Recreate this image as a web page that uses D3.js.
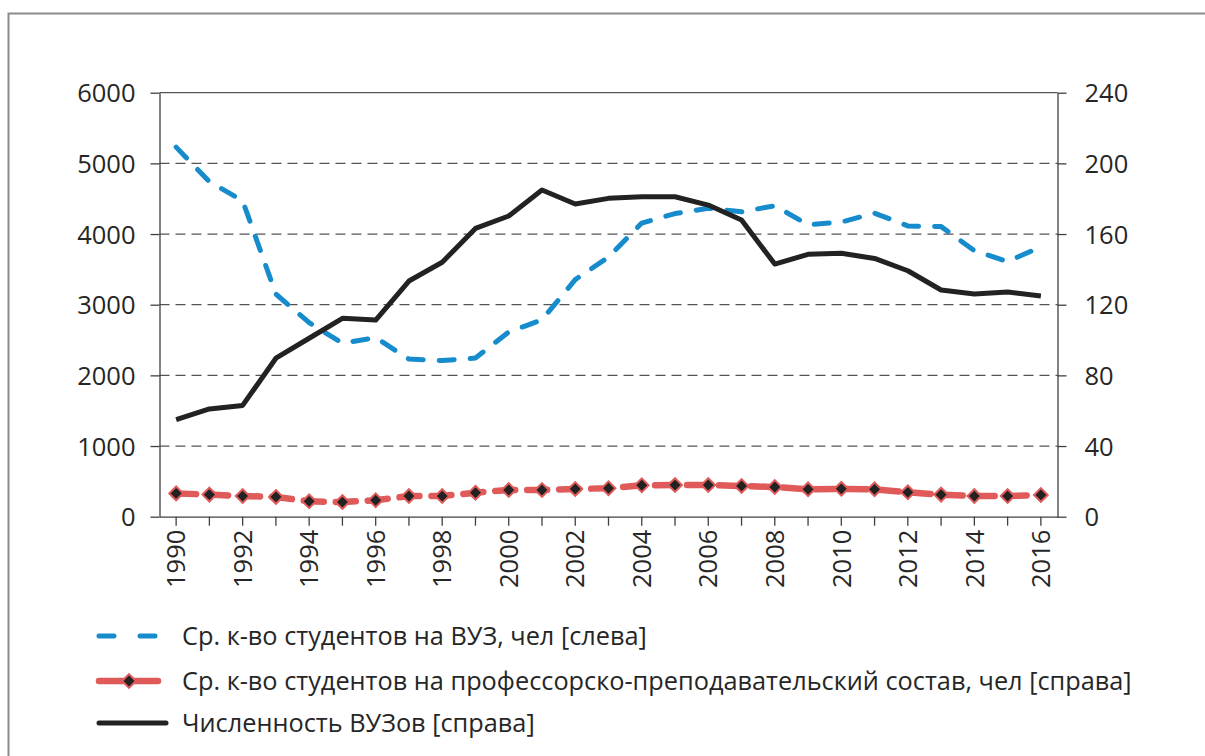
<!DOCTYPE html>
<html>
<head>
<meta charset="utf-8">
<script src="https://cdn.jsdelivr.net/npm/d3@7"></script>
<style>
  body { margin: 0; background: #fff; }
  svg { display: block; font-family: "Open Sans", sans-serif; }
  .axis path, .axis line { stroke: #404040; stroke-width: 1.3; }
  .axis text { fill: #262626; font-size: 25.5px; font-family: "Open Sans", sans-serif; }
  .legend text { fill: #262626; font-size: 25.3px; font-family: "Open Sans", sans-serif; }
</style>
</head>
<body>
<svg width="1205" height="756"></svg>
<script>
// **** Data ****
var years = d3.range(1990, 2017);
var yearLabels = years.filter(y => y % 2 === 0);

// Ср. к-во студентов на ВУЗ (left axis)
var studentsPerUni = [5230, 4740, 4470, 3150, 2745, 2455, 2535, 2230, 2210, 2245, 2615,
    2785, 3355, 3675, 4155, 4290, 4365, 4315, 4400, 4130, 4170, 4295, 4115, 4105, 3765, 3610, 3820];

// Ср. к-во студентов на ППС (right axis)
var studentsPerStaff = [13.2, 12.5, 11.7, 11.2, 8.7, 8.3, 9.3, 11.7, 11.7, 13.6, 15.1,
    15.1, 15.7, 16.1, 17.8, 17.9, 17.9, 17.4, 16.8, 15.5, 15.8, 15.5, 13.8, 12.5, 11.7, 11.7, 12.3];

// Численность ВУЗов (right axis)
var uniCount = [55, 61, 63, 89.7, 101, 112.3, 111.3, 133.4, 144, 163.2, 170.2,
    184.9, 177, 180.2, 181.1, 181.1, 176.4, 167.9, 143, 148.5, 149.1, 146.2, 139.2, 128.3, 126.1, 127.2, 124.9];

var leftTicks = [0, 1000, 2000, 3000, 4000, 5000, 6000];
var rightTicks = [0, 40, 80, 120, 160, 200, 240];

var legendNames = [
    "Ср. к-во студентов на ВУЗ, чел [слева]",
    "Ср. к-во студентов на профессорско-преподавательский состав, чел [справа]",
    "Численность ВУЗов [справа]"
];

var blue = "#168ccc", red = "#e05a5a", black = "#222222";

var svg = d3.select("svg");

// frame
svg.append("rect")
    .attr("x", 8.5).attr("y", 13.5)
    .attr("width", 1220).attr("height", 780)
    .attr("fill", "none")
    .attr("stroke", "#8c8c8c")
    .attr("stroke-width", 2);

// **** Scales ****
var x = d3.scaleBand().domain(years).range([159.5, 1057.5]).padding(0);
var cx = d => x(d) + x.bandwidth() / 2;

var yLeft = d3.scaleLinear().domain([0, 6000]).range([516.7, 92.7]);
var yRight = d3.scaleLinear().domain([0, 240]).range([516.7, 92.7]);

// gridlines
svg.append("g")
    .selectAll("line")
    .data(leftTicks.filter(t => t > 0))
    .enter()
    .append("line")
    .attr("x1", 159.5).attr("x2", 1057.5)
    .attr("y1", d => yLeft(d)).attr("y2", d => yLeft(d))
    .attr("stroke", "#555")
    .attr("stroke-width", 1.3)
    .attr("stroke-dasharray", d => d === 6000 ? null : "10,6");

// Left axis
svg.append("g")
    .attr("class", "axis")
    .attr("transform", "translate(159.5,0)")
    .call(d3.axisLeft(yLeft).tickValues(leftTicks).tickFormat(d3.format("d"))
        .tickSizeInner(9).tickSizeOuter(0).tickPadding(15))
    .call(g => g.selectAll("text").attr("dy", "0.36em"));

// Right axis
svg.append("g")
    .attr("class", "axis")
    .attr("transform", "translate(1057.5,0)")
    .call(d3.axisRight(yRight).tickValues(rightTicks).tickFormat(d3.format("d"))
        .tickSizeInner(9).tickSizeOuter(0).tickPadding(18))
    .call(g => g.selectAll("text").attr("dy", "0.36em"));

// Bottom axis
var xAxis = svg.append("g")
    .attr("class", "axis")
    .attr("transform", "translate(0,516.7)")
    .call(d3.axisBottom(x).tickSizeInner(9).tickSizeOuter(0)
        .tickFormat(d => yearLabels.includes(d) ? d : ""));
xAxis.selectAll("text")
    .attr("transform", "rotate(-90)")
    .attr("text-anchor", "end")
    .attr("x", -13)
    .attr("y", 0)
    .attr("dy", "0.36em");

// **** Lines ****
var lineLeft = d3.line().x((d, i) => cx(years[i])).y(d => yLeft(d));
var lineRight = d3.line().x((d, i) => cx(years[i])).y(d => yRight(d));

svg.append("path")
    .datum(studentsPerStaff)
    .attr("d", lineRight)
    .attr("fill", "none")
    .attr("stroke", red)
    .attr("stroke-width", 6.5)
    .attr("stroke-dasharray", "20,12")
    .attr("stroke-linecap", "round");

svg.selectAll(".marker")
    .data(studentsPerStaff)
    .enter()
    .append("path")
    .attr("class", "marker")
    .attr("d", d3.symbol().type(d3.symbolDiamond2).size(120))
    .attr("transform", (d, i) => "translate(" + cx(years[i]) + "," + yRight(d) + ")")
    .attr("fill", black)
    .attr("stroke", red)
    .attr("stroke-width", 2);

svg.append("path")
    .datum(studentsPerUni)
    .attr("d", lineLeft)
    .attr("fill", "none")
    .attr("stroke", blue)
    .attr("stroke-width", 5)
    .attr("stroke-dasharray", "15,16")
    .attr("stroke-linecap", "round")
    .attr("stroke-linejoin", "round");

svg.append("path")
    .datum(uniCount)
    .attr("d", lineRight)
    .attr("fill", "none")
    .attr("stroke", black)
    .attr("stroke-width", 5)
    .attr("stroke-linejoin", "round");

// **** Legend ****
var legend = svg.append("g").attr("class", "legend");
var legendY = [636, 681, 723];

legend.append("line")
    .attr("x1", 99).attr("x2", 158)
    .attr("y1", legendY[0]).attr("y2", legendY[0])
    .attr("stroke", blue).attr("stroke-width", 5)
    .attr("stroke-dasharray", "15,26").attr("stroke-linecap", "round");

legend.append("line")
    .attr("x1", 99).attr("x2", 158)
    .attr("y1", legendY[1]).attr("y2", legendY[1])
    .attr("stroke", red).attr("stroke-width", 6.5).attr("stroke-linecap", "round");
legend.append("path")
    .attr("d", d3.symbol().type(d3.symbolDiamond2).size(120))
    .attr("transform", "translate(129," + legendY[1] + ")")
    .attr("fill", black).attr("stroke", red).attr("stroke-width", 2);

legend.append("line")
    .attr("x1", 99).attr("x2", 166)
    .attr("y1", legendY[2]).attr("y2", legendY[2])
    .attr("stroke", black).attr("stroke-width", 5).attr("stroke-linecap", "round");

legend.selectAll("text")
    .data(legendNames)
    .enter()
    .append("text")
    .attr("x", 182)
    .attr("y", (d, i) => legendY[i])
    .attr("dy", "0.35em")
    .text(d => d);
</script>
</body>
</html>
